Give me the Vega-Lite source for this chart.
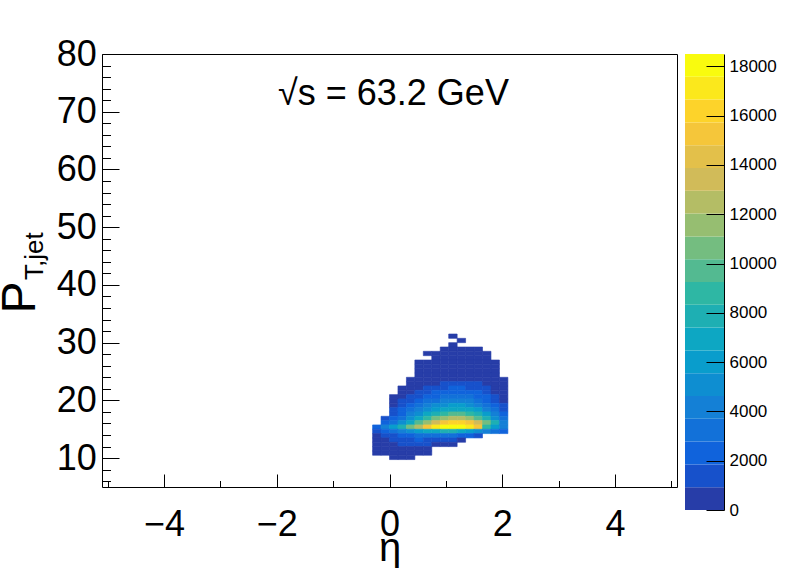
{
  "$schema": "https://vega.github.io/schema/vega-lite/v6.json",
  "background": "white",
  "padding": {"left": -5, "top": 35, "right": 0, "bottom": 0},
  "config": {
    "font": "Liberation Sans",
    "view": {"stroke": "black", "strokeWidth": 1},
    "axis": {"grid": false, "labelColor": "black", "tickColor": "black", "titleColor": "black", "titleFontWeight": "normal", "labelFont": "Liberation Sans", "titleFont": "Liberation Sans"}
  },
  "spacing": 8,
  "bounds": "flush",
  "hconcat": [
    {
      "width": 575,
      "height": 433,
      "layer": [
        {
          "data": {"values": [
            {"e":1.05,"e2":1.2,"p":30.75,"p2":31.5,"n":460},
            {"e":1.2,"e2":1.35,"p":30,"p2":30.75,"n":460},
            {"e":1.05,"e2":1.2,"p":29.25,"p2":30,"n":460},
            {"e":0.9,"e2":1.05,"p":28.5,"p2":29.25,"n":460},
            {"e":1.05,"e2":1.2,"p":28.5,"p2":29.25,"n":460},
            {"e":1.2,"e2":1.35,"p":28.5,"p2":29.25,"n":460},
            {"e":1.35,"e2":1.5,"p":28.5,"p2":29.25,"n":460},
            {"e":1.5,"e2":1.65,"p":28.5,"p2":29.25,"n":460},
            {"e":0.6,"e2":0.75,"p":27.75,"p2":28.5,"n":460},
            {"e":0.75,"e2":0.9,"p":27.75,"p2":28.5,"n":460},
            {"e":0.9,"e2":1.05,"p":27.75,"p2":28.5,"n":460},
            {"e":1.05,"e2":1.2,"p":27.75,"p2":28.5,"n":460},
            {"e":1.2,"e2":1.35,"p":27.75,"p2":28.5,"n":460},
            {"e":1.35,"e2":1.5,"p":27.75,"p2":28.5,"n":460},
            {"e":1.5,"e2":1.65,"p":27.75,"p2":28.5,"n":460},
            {"e":1.65,"e2":1.8,"p":27.75,"p2":28.5,"n":460},
            {"e":0.75,"e2":0.9,"p":27,"p2":27.75,"n":460},
            {"e":0.9,"e2":1.05,"p":27,"p2":27.75,"n":460},
            {"e":1.05,"e2":1.2,"p":27,"p2":27.75,"n":460},
            {"e":1.2,"e2":1.35,"p":27,"p2":27.75,"n":460},
            {"e":1.35,"e2":1.5,"p":27,"p2":27.75,"n":460},
            {"e":1.5,"e2":1.65,"p":27,"p2":27.75,"n":460},
            {"e":1.65,"e2":1.8,"p":27,"p2":27.75,"n":460},
            {"e":0.45,"e2":0.6,"p":26.25,"p2":27,"n":460},
            {"e":0.6,"e2":0.75,"p":26.25,"p2":27,"n":460},
            {"e":0.75,"e2":0.9,"p":26.25,"p2":27,"n":460},
            {"e":0.9,"e2":1.05,"p":26.25,"p2":27,"n":460},
            {"e":1.05,"e2":1.2,"p":26.25,"p2":27,"n":460},
            {"e":1.2,"e2":1.35,"p":26.25,"p2":27,"n":460},
            {"e":1.35,"e2":1.5,"p":26.25,"p2":27,"n":460},
            {"e":1.5,"e2":1.65,"p":26.25,"p2":27,"n":460},
            {"e":1.65,"e2":1.8,"p":26.25,"p2":27,"n":460},
            {"e":1.8,"e2":1.95,"p":26.25,"p2":27,"n":460},
            {"e":0.45,"e2":0.6,"p":25.5,"p2":26.25,"n":460},
            {"e":0.6,"e2":0.75,"p":25.5,"p2":26.25,"n":460},
            {"e":0.75,"e2":0.9,"p":25.5,"p2":26.25,"n":460},
            {"e":0.9,"e2":1.05,"p":25.5,"p2":26.25,"n":460},
            {"e":1.05,"e2":1.2,"p":25.5,"p2":26.25,"n":460},
            {"e":1.2,"e2":1.35,"p":25.5,"p2":26.25,"n":460},
            {"e":1.35,"e2":1.5,"p":25.5,"p2":26.25,"n":460},
            {"e":1.5,"e2":1.65,"p":25.5,"p2":26.25,"n":460},
            {"e":1.65,"e2":1.8,"p":25.5,"p2":26.25,"n":460},
            {"e":1.8,"e2":1.95,"p":25.5,"p2":26.25,"n":460},
            {"e":0.45,"e2":0.6,"p":24.75,"p2":25.5,"n":460},
            {"e":0.6,"e2":0.75,"p":24.75,"p2":25.5,"n":460},
            {"e":0.75,"e2":0.9,"p":24.75,"p2":25.5,"n":460},
            {"e":0.9,"e2":1.05,"p":24.75,"p2":25.5,"n":460},
            {"e":1.05,"e2":1.2,"p":24.75,"p2":25.5,"n":460},
            {"e":1.2,"e2":1.35,"p":24.75,"p2":25.5,"n":460},
            {"e":1.35,"e2":1.5,"p":24.75,"p2":25.5,"n":460},
            {"e":1.5,"e2":1.65,"p":24.75,"p2":25.5,"n":460},
            {"e":1.65,"e2":1.8,"p":24.75,"p2":25.5,"n":460},
            {"e":1.8,"e2":1.95,"p":24.75,"p2":25.5,"n":460},
            {"e":0.45,"e2":0.6,"p":24,"p2":24.75,"n":460},
            {"e":0.6,"e2":0.75,"p":24,"p2":24.75,"n":460},
            {"e":0.75,"e2":0.9,"p":24,"p2":24.75,"n":460},
            {"e":0.9,"e2":1.05,"p":24,"p2":24.75,"n":460},
            {"e":1.05,"e2":1.2,"p":24,"p2":24.75,"n":460},
            {"e":1.2,"e2":1.35,"p":24,"p2":24.75,"n":460},
            {"e":1.35,"e2":1.5,"p":24,"p2":24.75,"n":460},
            {"e":1.5,"e2":1.65,"p":24,"p2":24.75,"n":460},
            {"e":1.65,"e2":1.8,"p":24,"p2":24.75,"n":460},
            {"e":1.8,"e2":1.95,"p":24,"p2":24.75,"n":460},
            {"e":0.3,"e2":0.45,"p":23.25,"p2":24,"n":460},
            {"e":0.45,"e2":0.6,"p":23.25,"p2":24,"n":460},
            {"e":0.6,"e2":0.75,"p":23.25,"p2":24,"n":460},
            {"e":0.75,"e2":0.9,"p":23.25,"p2":24,"n":460},
            {"e":0.9,"e2":1.05,"p":23.25,"p2":24,"n":460},
            {"e":1.05,"e2":1.2,"p":23.25,"p2":24,"n":460},
            {"e":1.2,"e2":1.35,"p":23.25,"p2":24,"n":460},
            {"e":1.35,"e2":1.5,"p":23.25,"p2":24,"n":460},
            {"e":1.5,"e2":1.65,"p":23.25,"p2":24,"n":460},
            {"e":1.65,"e2":1.8,"p":23.25,"p2":24,"n":460},
            {"e":1.8,"e2":1.95,"p":23.25,"p2":24,"n":460},
            {"e":1.95,"e2":2.1,"p":23.25,"p2":24,"n":460},
            {"e":0.3,"e2":0.45,"p":22.5,"p2":23.25,"n":460},
            {"e":0.45,"e2":0.6,"p":22.5,"p2":23.25,"n":460},
            {"e":0.6,"e2":0.75,"p":22.5,"p2":23.25,"n":460},
            {"e":0.75,"e2":0.9,"p":22.5,"p2":23.25,"n":460},
            {"e":0.9,"e2":1.05,"p":22.5,"p2":23.25,"n":1390},
            {"e":1.05,"e2":1.2,"p":22.5,"p2":23.25,"n":1390},
            {"e":1.2,"e2":1.35,"p":22.5,"p2":23.25,"n":1390},
            {"e":1.35,"e2":1.5,"p":22.5,"p2":23.25,"n":1390},
            {"e":1.5,"e2":1.65,"p":22.5,"p2":23.25,"n":1390},
            {"e":1.65,"e2":1.8,"p":22.5,"p2":23.25,"n":460},
            {"e":1.8,"e2":1.95,"p":22.5,"p2":23.25,"n":460},
            {"e":1.95,"e2":2.1,"p":22.5,"p2":23.25,"n":460},
            {"e":0.15,"e2":0.3,"p":21.75,"p2":22.5,"n":460},
            {"e":0.3,"e2":0.45,"p":21.75,"p2":22.5,"n":460},
            {"e":0.45,"e2":0.6,"p":21.75,"p2":22.5,"n":460},
            {"e":0.6,"e2":0.75,"p":21.75,"p2":22.5,"n":1390},
            {"e":0.75,"e2":0.9,"p":21.75,"p2":22.5,"n":1390},
            {"e":0.9,"e2":1.05,"p":21.75,"p2":22.5,"n":1390},
            {"e":1.05,"e2":1.2,"p":21.75,"p2":22.5,"n":2310},
            {"e":1.2,"e2":1.35,"p":21.75,"p2":22.5,"n":2310},
            {"e":1.35,"e2":1.5,"p":21.75,"p2":22.5,"n":1390},
            {"e":1.5,"e2":1.65,"p":21.75,"p2":22.5,"n":1390},
            {"e":1.65,"e2":1.8,"p":21.75,"p2":22.5,"n":1390},
            {"e":1.8,"e2":1.95,"p":21.75,"p2":22.5,"n":460},
            {"e":1.95,"e2":2.1,"p":21.75,"p2":22.5,"n":460},
            {"e":0.15,"e2":0.3,"p":21,"p2":21.75,"n":460},
            {"e":0.3,"e2":0.45,"p":21,"p2":21.75,"n":460},
            {"e":0.45,"e2":0.6,"p":21,"p2":21.75,"n":1390},
            {"e":0.6,"e2":0.75,"p":21,"p2":21.75,"n":1390},
            {"e":0.75,"e2":0.9,"p":21,"p2":21.75,"n":2310},
            {"e":0.9,"e2":1.05,"p":21,"p2":21.75,"n":2310},
            {"e":1.05,"e2":1.2,"p":21,"p2":21.75,"n":2310},
            {"e":1.2,"e2":1.35,"p":21,"p2":21.75,"n":2310},
            {"e":1.35,"e2":1.5,"p":21,"p2":21.75,"n":2310},
            {"e":1.5,"e2":1.65,"p":21,"p2":21.75,"n":2310},
            {"e":1.65,"e2":1.8,"p":21,"p2":21.75,"n":1390},
            {"e":1.8,"e2":1.95,"p":21,"p2":21.75,"n":460},
            {"e":1.95,"e2":2.1,"p":21,"p2":21.75,"n":460},
            {"e":0,"e2":0.15,"p":20.25,"p2":21,"n":460},
            {"e":0.15,"e2":0.3,"p":20.25,"p2":21,"n":460},
            {"e":0.3,"e2":0.45,"p":20.25,"p2":21,"n":1390},
            {"e":0.45,"e2":0.6,"p":20.25,"p2":21,"n":1390},
            {"e":0.6,"e2":0.75,"p":20.25,"p2":21,"n":2310},
            {"e":0.75,"e2":0.9,"p":20.25,"p2":21,"n":2310},
            {"e":0.9,"e2":1.05,"p":20.25,"p2":21,"n":3240},
            {"e":1.05,"e2":1.2,"p":20.25,"p2":21,"n":3240},
            {"e":1.2,"e2":1.35,"p":20.25,"p2":21,"n":3240},
            {"e":1.35,"e2":1.5,"p":20.25,"p2":21,"n":3240},
            {"e":1.5,"e2":1.65,"p":20.25,"p2":21,"n":2310},
            {"e":1.65,"e2":1.8,"p":20.25,"p2":21,"n":2310},
            {"e":1.8,"e2":1.95,"p":20.25,"p2":21,"n":1390},
            {"e":1.95,"e2":2.1,"p":20.25,"p2":21,"n":460},
            {"e":0,"e2":0.15,"p":19.5,"p2":20.25,"n":460},
            {"e":0.15,"e2":0.3,"p":19.5,"p2":20.25,"n":1390},
            {"e":0.3,"e2":0.45,"p":19.5,"p2":20.25,"n":1390},
            {"e":0.45,"e2":0.6,"p":19.5,"p2":20.25,"n":2310},
            {"e":0.6,"e2":0.75,"p":19.5,"p2":20.25,"n":3240},
            {"e":0.75,"e2":0.9,"p":19.5,"p2":20.25,"n":3240},
            {"e":0.9,"e2":1.05,"p":19.5,"p2":20.25,"n":4160},
            {"e":1.05,"e2":1.2,"p":19.5,"p2":20.25,"n":4160},
            {"e":1.2,"e2":1.35,"p":19.5,"p2":20.25,"n":4160},
            {"e":1.35,"e2":1.5,"p":19.5,"p2":20.25,"n":4160},
            {"e":1.5,"e2":1.65,"p":19.5,"p2":20.25,"n":3240},
            {"e":1.65,"e2":1.8,"p":19.5,"p2":20.25,"n":2310},
            {"e":1.8,"e2":1.95,"p":19.5,"p2":20.25,"n":1390},
            {"e":1.95,"e2":2.1,"p":19.5,"p2":20.25,"n":460},
            {"e":0,"e2":0.15,"p":18.75,"p2":19.5,"n":460},
            {"e":0.15,"e2":0.3,"p":18.75,"p2":19.5,"n":1390},
            {"e":0.3,"e2":0.45,"p":18.75,"p2":19.5,"n":2310},
            {"e":0.45,"e2":0.6,"p":18.75,"p2":19.5,"n":3240},
            {"e":0.6,"e2":0.75,"p":18.75,"p2":19.5,"n":4160},
            {"e":0.75,"e2":0.9,"p":18.75,"p2":19.5,"n":5090},
            {"e":0.9,"e2":1.05,"p":18.75,"p2":19.5,"n":5090},
            {"e":1.05,"e2":1.2,"p":18.75,"p2":19.5,"n":6010},
            {"e":1.2,"e2":1.35,"p":18.75,"p2":19.5,"n":6010},
            {"e":1.35,"e2":1.5,"p":18.75,"p2":19.5,"n":5090},
            {"e":1.5,"e2":1.65,"p":18.75,"p2":19.5,"n":4160},
            {"e":1.65,"e2":1.8,"p":18.75,"p2":19.5,"n":3240},
            {"e":1.8,"e2":1.95,"p":18.75,"p2":19.5,"n":2310},
            {"e":1.95,"e2":2.1,"p":18.75,"p2":19.5,"n":1390},
            {"e":0,"e2":0.15,"p":18,"p2":18.75,"n":1390},
            {"e":0.15,"e2":0.3,"p":18,"p2":18.75,"n":2310},
            {"e":0.3,"e2":0.45,"p":18,"p2":18.75,"n":3240},
            {"e":0.45,"e2":0.6,"p":18,"p2":18.75,"n":4160},
            {"e":0.6,"e2":0.75,"p":18,"p2":18.75,"n":5090},
            {"e":0.75,"e2":0.9,"p":18,"p2":18.75,"n":6010},
            {"e":0.9,"e2":1.05,"p":18,"p2":18.75,"n":6940},
            {"e":1.05,"e2":1.2,"p":18,"p2":18.75,"n":6940},
            {"e":1.2,"e2":1.35,"p":18,"p2":18.75,"n":6940},
            {"e":1.35,"e2":1.5,"p":18,"p2":18.75,"n":6940},
            {"e":1.5,"e2":1.65,"p":18,"p2":18.75,"n":6010},
            {"e":1.65,"e2":1.8,"p":18,"p2":18.75,"n":4160},
            {"e":1.8,"e2":1.95,"p":18,"p2":18.75,"n":3240},
            {"e":1.95,"e2":2.1,"p":18,"p2":18.75,"n":1390},
            {"e":0,"e2":0.15,"p":17.25,"p2":18,"n":1390},
            {"e":0.15,"e2":0.3,"p":17.25,"p2":18,"n":2310},
            {"e":0.3,"e2":0.45,"p":17.25,"p2":18,"n":4160},
            {"e":0.45,"e2":0.6,"p":17.25,"p2":18,"n":5090},
            {"e":0.6,"e2":0.75,"p":17.25,"p2":18,"n":6940},
            {"e":0.75,"e2":0.9,"p":17.25,"p2":18,"n":7860},
            {"e":0.9,"e2":1.05,"p":17.25,"p2":18,"n":8790},
            {"e":1.05,"e2":1.2,"p":17.25,"p2":18,"n":9710},
            {"e":1.2,"e2":1.35,"p":17.25,"p2":18,"n":9710},
            {"e":1.35,"e2":1.5,"p":17.25,"p2":18,"n":8790},
            {"e":1.5,"e2":1.65,"p":17.25,"p2":18,"n":7860},
            {"e":1.65,"e2":1.8,"p":17.25,"p2":18,"n":6010},
            {"e":1.8,"e2":1.95,"p":17.25,"p2":18,"n":4160},
            {"e":1.95,"e2":2.1,"p":17.25,"p2":18,"n":2310},
            {"e":-0.15,"e2":0,"p":16.5,"p2":17.25,"n":1390},
            {"e":0,"e2":0.15,"p":16.5,"p2":17.25,"n":2310},
            {"e":0.15,"e2":0.3,"p":16.5,"p2":17.25,"n":3240},
            {"e":0.3,"e2":0.45,"p":16.5,"p2":17.25,"n":5090},
            {"e":0.45,"e2":0.6,"p":16.5,"p2":17.25,"n":6940},
            {"e":0.6,"e2":0.75,"p":16.5,"p2":17.25,"n":8790},
            {"e":0.75,"e2":0.9,"p":16.5,"p2":17.25,"n":10640},
            {"e":0.9,"e2":1.05,"p":16.5,"p2":17.25,"n":11560},
            {"e":1.05,"e2":1.2,"p":16.5,"p2":17.25,"n":12490},
            {"e":1.2,"e2":1.35,"p":16.5,"p2":17.25,"n":12490},
            {"e":1.35,"e2":1.5,"p":16.5,"p2":17.25,"n":11560},
            {"e":1.5,"e2":1.65,"p":16.5,"p2":17.25,"n":9710},
            {"e":1.65,"e2":1.8,"p":16.5,"p2":17.25,"n":7860},
            {"e":1.8,"e2":1.95,"p":16.5,"p2":17.25,"n":5090},
            {"e":1.95,"e2":2.1,"p":16.5,"p2":17.25,"n":3240},
            {"e":-0.15,"e2":0,"p":15.75,"p2":16.5,"n":2310},
            {"e":0,"e2":0.15,"p":15.75,"p2":16.5,"n":3240},
            {"e":0.15,"e2":0.3,"p":15.75,"p2":16.5,"n":5090},
            {"e":0.3,"e2":0.45,"p":15.75,"p2":16.5,"n":6940},
            {"e":0.45,"e2":0.6,"p":15.75,"p2":16.5,"n":9710},
            {"e":0.6,"e2":0.75,"p":15.75,"p2":16.5,"n":11560},
            {"e":0.75,"e2":0.9,"p":15.75,"p2":16.5,"n":13410},
            {"e":0.9,"e2":1.05,"p":15.75,"p2":16.5,"n":15260},
            {"e":1.05,"e2":1.2,"p":15.75,"p2":16.5,"n":16190},
            {"e":1.2,"e2":1.35,"p":15.75,"p2":16.5,"n":16190},
            {"e":1.35,"e2":1.5,"p":15.75,"p2":16.5,"n":15260},
            {"e":1.5,"e2":1.65,"p":15.75,"p2":16.5,"n":13410},
            {"e":1.65,"e2":1.8,"p":15.75,"p2":16.5,"n":10640},
            {"e":1.8,"e2":1.95,"p":15.75,"p2":16.5,"n":7860},
            {"e":1.95,"e2":2.1,"p":15.75,"p2":16.5,"n":4160},
            {"e":-0.3,"e2":-0.15,"p":15,"p2":15.75,"n":2310},
            {"e":-0.15,"e2":0,"p":15,"p2":15.75,"n":4160},
            {"e":0,"e2":0.15,"p":15,"p2":15.75,"n":6010},
            {"e":0.15,"e2":0.3,"p":15,"p2":15.75,"n":7860},
            {"e":0.3,"e2":0.45,"p":15,"p2":15.75,"n":10640},
            {"e":0.45,"e2":0.6,"p":15,"p2":15.75,"n":12490},
            {"e":0.6,"e2":0.75,"p":15,"p2":15.75,"n":15260},
            {"e":0.75,"e2":0.9,"p":15,"p2":15.75,"n":17110},
            {"e":0.9,"e2":1.05,"p":15,"p2":15.75,"n":18040},
            {"e":1.05,"e2":1.2,"p":15,"p2":15.75,"n":18040},
            {"e":1.2,"e2":1.35,"p":15,"p2":15.75,"n":18040},
            {"e":1.35,"e2":1.5,"p":15,"p2":15.75,"n":17110},
            {"e":1.5,"e2":1.65,"p":15,"p2":15.75,"n":15260},
            {"e":1.65,"e2":1.8,"p":15,"p2":15.75,"n":8790},
            {"e":1.8,"e2":1.95,"p":15,"p2":15.75,"n":6010},
            {"e":1.95,"e2":2.1,"p":15,"p2":15.75,"n":4160},
            {"e":-0.3,"e2":-0.15,"p":14.25,"p2":15,"n":1390},
            {"e":-0.15,"e2":0,"p":14.25,"p2":15,"n":2310},
            {"e":0,"e2":0.15,"p":14.25,"p2":15,"n":3240},
            {"e":0.15,"e2":0.3,"p":14.25,"p2":15,"n":4160},
            {"e":0.3,"e2":0.45,"p":14.25,"p2":15,"n":5090},
            {"e":0.45,"e2":0.6,"p":14.25,"p2":15,"n":6010},
            {"e":0.6,"e2":0.75,"p":14.25,"p2":15,"n":6940},
            {"e":0.75,"e2":0.9,"p":14.25,"p2":15,"n":6940},
            {"e":0.9,"e2":1.05,"p":14.25,"p2":15,"n":7860},
            {"e":1.05,"e2":1.2,"p":14.25,"p2":15,"n":7860},
            {"e":1.2,"e2":1.35,"p":14.25,"p2":15,"n":6940},
            {"e":1.35,"e2":1.5,"p":14.25,"p2":15,"n":6010},
            {"e":1.5,"e2":1.65,"p":14.25,"p2":15,"n":5090},
            {"e":1.65,"e2":1.8,"p":14.25,"p2":15,"n":4160},
            {"e":1.8,"e2":1.95,"p":14.25,"p2":15,"n":3240},
            {"e":1.95,"e2":2.1,"p":14.25,"p2":15,"n":2310},
            {"e":-0.3,"e2":-0.15,"p":13.5,"p2":14.25,"n":460},
            {"e":-0.15,"e2":0,"p":13.5,"p2":14.25,"n":1390},
            {"e":0,"e2":0.15,"p":13.5,"p2":14.25,"n":1390},
            {"e":0.15,"e2":0.3,"p":13.5,"p2":14.25,"n":2310},
            {"e":0.3,"e2":0.45,"p":13.5,"p2":14.25,"n":2310},
            {"e":0.45,"e2":0.6,"p":13.5,"p2":14.25,"n":3240},
            {"e":0.6,"e2":0.75,"p":13.5,"p2":14.25,"n":3240},
            {"e":0.75,"e2":0.9,"p":13.5,"p2":14.25,"n":3240},
            {"e":0.9,"e2":1.05,"p":13.5,"p2":14.25,"n":3240},
            {"e":1.05,"e2":1.2,"p":13.5,"p2":14.25,"n":3240},
            {"e":1.2,"e2":1.35,"p":13.5,"p2":14.25,"n":2310},
            {"e":1.35,"e2":1.5,"p":13.5,"p2":14.25,"n":2310},
            {"e":1.5,"e2":1.65,"p":13.5,"p2":14.25,"n":1390},
            {"e":-0.3,"e2":-0.15,"p":12.75,"p2":13.5,"n":460},
            {"e":-0.15,"e2":0,"p":12.75,"p2":13.5,"n":460},
            {"e":0,"e2":0.15,"p":12.75,"p2":13.5,"n":1390},
            {"e":0.15,"e2":0.3,"p":12.75,"p2":13.5,"n":1390},
            {"e":0.3,"e2":0.45,"p":12.75,"p2":13.5,"n":1390},
            {"e":0.45,"e2":0.6,"p":12.75,"p2":13.5,"n":2310},
            {"e":0.6,"e2":0.75,"p":12.75,"p2":13.5,"n":1390},
            {"e":0.75,"e2":0.9,"p":12.75,"p2":13.5,"n":1390},
            {"e":0.9,"e2":1.05,"p":12.75,"p2":13.5,"n":1390},
            {"e":1.05,"e2":1.2,"p":12.75,"p2":13.5,"n":1390},
            {"e":1.2,"e2":1.35,"p":12.75,"p2":13.5,"n":460},
            {"e":-0.3,"e2":-0.15,"p":12,"p2":12.75,"n":460},
            {"e":-0.15,"e2":0,"p":12,"p2":12.75,"n":460},
            {"e":0,"e2":0.15,"p":12,"p2":12.75,"n":460},
            {"e":0.15,"e2":0.3,"p":12,"p2":12.75,"n":1390},
            {"e":0.3,"e2":0.45,"p":12,"p2":12.75,"n":1390},
            {"e":0.45,"e2":0.6,"p":12,"p2":12.75,"n":1390},
            {"e":0.6,"e2":0.75,"p":12,"p2":12.75,"n":1390},
            {"e":0.75,"e2":0.9,"p":12,"p2":12.75,"n":460},
            {"e":0.9,"e2":1.05,"p":12,"p2":12.75,"n":460},
            {"e":1.05,"e2":1.2,"p":12,"p2":12.75,"n":460},
            {"e":-0.3,"e2":-0.15,"p":11.25,"p2":12,"n":460},
            {"e":-0.15,"e2":0,"p":11.25,"p2":12,"n":460},
            {"e":0,"e2":0.15,"p":11.25,"p2":12,"n":460},
            {"e":0.15,"e2":0.3,"p":11.25,"p2":12,"n":460},
            {"e":0.3,"e2":0.45,"p":11.25,"p2":12,"n":460},
            {"e":0.45,"e2":0.6,"p":11.25,"p2":12,"n":460},
            {"e":0.6,"e2":0.75,"p":11.25,"p2":12,"n":460},
            {"e":-0.3,"e2":-0.15,"p":10.5,"p2":11.25,"n":460},
            {"e":-0.15,"e2":0,"p":10.5,"p2":11.25,"n":460},
            {"e":0,"e2":0.15,"p":10.5,"p2":11.25,"n":460},
            {"e":0.15,"e2":0.3,"p":10.5,"p2":11.25,"n":460},
            {"e":0.3,"e2":0.45,"p":10.5,"p2":11.25,"n":460},
            {"e":0.45,"e2":0.6,"p":10.5,"p2":11.25,"n":460},
            {"e":0.6,"e2":0.75,"p":10.5,"p2":11.25,"n":460},
            {"e":0,"e2":0.15,"p":9.75,"p2":10.5,"n":460},
            {"e":0.15,"e2":0.3,"p":9.75,"p2":10.5,"n":460},
            {"e":0.3,"e2":0.45,"p":9.75,"p2":10.5,"n":460}
          ]},
          "mark": {"type": "rect", "strokeWidth": 0.6},
          "encoding": {
            "x": {
              "field": "e", "type": "quantitative",
              "scale": {"domain": [-5.1, 5.1], "nice": false, "zero": false},
              "axis": {
                "title": "η",
                "values": [-5,-4.5,-4,-3.5,-3,-2.5,-2,-1.5,-1,-0.5,0,0.5,1,1.5,2,2.5,3,3.5,4,4.5,5],
                "tickCount": 100,
                "format": "d",
                "labelExpr": "datum.value % 2 === 0 ? datum.label : ''",
                "tickSize": {"condition": {"test": "datum.value % 2 === 0", "value": -13}, "value": -6.5},
                "domain": false,
                "labelFontSize": 36,
                "labelPadding": 33,
                "labelOverlap": false,
                "labelFlush": false,
                "labelBound": false,
                "titleFontSize": 40,
                "titlePadding": -20
              }
            },
            "x2": {"field": "e2"},
            "y": {
              "field": "p", "type": "quantitative",
              "scale": {"domain": [5, 80], "nice": false, "zero": false},
              "axis": {
                "title": "P",
                "values": [6,8,10,12,14,16,18,20,22,24,26,28,30,32,34,36,38,40,42,44,46,48,50,52,54,56,58,60,62,64,66,68,70,72,74,76,78,80],
                "tickCount": 100,
                "format": "d",
                "labelExpr": "datum.value % 10 === 0 ? datum.label : ''",
                "tickSize": {"condition": {"test": "datum.value % 10 === 0", "value": -17}, "value": -8.5},
                "domain": false,
                "labelFontSize": 36,
                "labelPadding": 22.6,
                "labelOverlap": false,
                "labelFlush": false,
                "labelBound": false,
                "titleFontSize": 48,
                "titleAngle": 270,
                "titleAlign": "center",
                "titleBaseline": "alphabetic",
                "titleX": -68,
                "titleY": 243
              }
            },
            "y2": {"field": "p2"},
            "color": {
              "field": "n", "type": "quantitative",
              "scale": {"type": "quantize", "domain": [0, 18500], "range": ["#273da8","#1751cb","#1063dc","#1271d9","#1480d6","#0e8ed1","#099dcc","#0da7c3","#1eafb3","#2eb7a4","#53ba91","#74bd80","#96be71","#b4bd65","#d1bb59","#e3c04a","#f5c63a","#fdd32a","#fbe81c","#f9fb0e"]},
              "legend": null
            },
            "stroke": {
              "field": "n", "type": "quantitative",
              "scale": {"type": "quantize", "domain": [0, 18500], "range": ["#273da8","#1751cb","#1063dc","#1271d9","#1480d6","#0e8ed1","#099dcc","#0da7c3","#1eafb3","#2eb7a4","#53ba91","#74bd80","#96be71","#b4bd65","#d1bb59","#e3c04a","#f5c63a","#fdd32a","#fbe81c","#f9fb0e"]},
              "legend": null
            }
          }
        },
        {
          "data": {"values": [{}]},
          "mark": {"type": "text", "fontSize": 36, "font": "Liberation Sans", "align": "center", "baseline": "alphabetic", "color": "black"},
          "encoding": {
            "x": {"datum": 0.07, "type": "quantitative"},
            "y": {"datum": 71.17, "type": "quantitative"},
            "text": {"value": "√s = 63.2 GeV"}
          }
        },
        {
          "data": {"values": [{}]},
          "mark": {"type": "text", "fontSize": 26, "font": "Liberation Sans", "align": "center", "baseline": "alphabetic", "angle": 270, "color": "black"},
          "encoding": {
            "x": {"datum": -6.15, "type": "quantitative"},
            "y": {"datum": 45.0, "type": "quantitative"},
            "text": {"value": "T,jet"}
          }
        }
      ]
    },
    {
      "width": 39,
      "height": 456,
      "view": {"stroke": null},
      "data": {"values": [
        {"lo":0,"hi":925,"z":462},
        {"lo":925,"hi":1850,"z":1387},
        {"lo":1850,"hi":2775,"z":2312},
        {"lo":2775,"hi":3700,"z":3237},
        {"lo":3700,"hi":4625,"z":4162},
        {"lo":4625,"hi":5550,"z":5087},
        {"lo":5550,"hi":6475,"z":6012},
        {"lo":6475,"hi":7400,"z":6937},
        {"lo":7400,"hi":8325,"z":7862},
        {"lo":8325,"hi":9250,"z":8787},
        {"lo":9250,"hi":10175,"z":9712},
        {"lo":10175,"hi":11100,"z":10637},
        {"lo":11100,"hi":12025,"z":11562},
        {"lo":12025,"hi":12950,"z":12487},
        {"lo":12950,"hi":13875,"z":13412},
        {"lo":13875,"hi":14800,"z":14337},
        {"lo":14800,"hi":15725,"z":15262},
        {"lo":15725,"hi":16650,"z":16187},
        {"lo":16650,"hi":17575,"z":17112},
        {"lo":17575,"hi":18500,"z":18037}
      ]},
      "mark": {"type": "rect"},
      "encoding": {
        "y": {
          "field": "lo", "type": "quantitative",
          "scale": {"domain": [0, 18500], "nice": false, "zero": false},
          "axis": {
            "orient": "right",
            "title": null,
            "values": [0,2000,4000,6000,8000,10000,12000,14000,16000,18000],
            "tickCount": 100,
            "format": "d",
            "tickSize": -18,
            "labelPadding": 23,
            "labelFontSize": 17,
            "domainColor": "black",
            "labelOverlap": false,
            "labelFlush": false,
            "labelBound": false,
            "zindex": 1
          }
        },
        "y2": {"field": "hi"},
        "color": {
          "field": "z", "type": "quantitative",
          "scale": {"type": "quantize", "domain": [0, 18500], "range": ["#273da8","#1751cb","#1063dc","#1271d9","#1480d6","#0e8ed1","#099dcc","#0da7c3","#1eafb3","#2eb7a4","#53ba91","#74bd80","#96be71","#b4bd65","#d1bb59","#e3c04a","#f5c63a","#fdd32a","#fbe81c","#f9fb0e"]},
          "legend": null
        }
      }
    }
  ]
}
